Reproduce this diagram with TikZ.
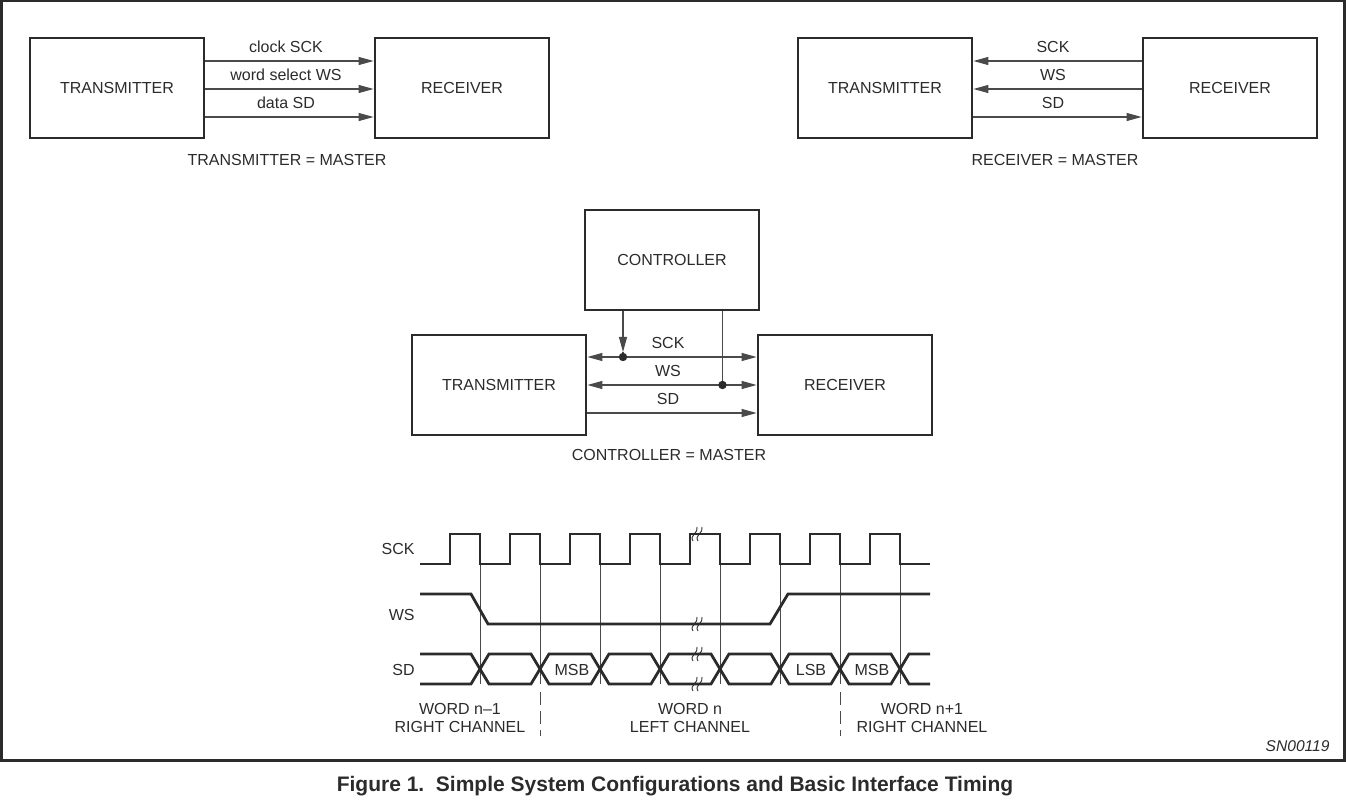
\documentclass[tikz,border=0pt]{standalone}
\usepackage{fontspec}
\setmainfont{Liberation Sans}
\usetikzlibrary{arrows.meta}
\definecolor{ink}{HTML}{2B2B2B}
\definecolor{thin}{HTML}{4A4A4A}
\begin{document}
\begin{tikzpicture}[x=0.5pt,y=-0.5pt,
  box/.style={draw=ink,line width=1.4pt,minimum width=87pt,minimum height=50pt,inner sep=0pt,text=ink,font=\fontsize{8}{9.6}\selectfont},
  lbl/.style={inner sep=0pt,text=ink,font=\fontsize{8}{9.6}\selectfont},
  sig/.style={draw=thin,line width=0.55pt},
  arr/.style={sig,-{Triangle[length=7.5pt,width=4pt]}},
  darr/.style={sig,{Triangle[length=7.5pt,width=4pt]}-{Triangle[length=7.5pt,width=4pt]}},
  wave/.style={draw=ink,line width=1.4pt},
  guide/.style={draw=thin,line width=0.45pt},
  brk/.pic={\draw[draw=ink,line width=0.45pt] (-6,7) .. controls (-10,1) and (0,-1) .. (-2,-7);
            \draw[draw=ink,line width=0.45pt] (-1,7) .. controls (-5,1) and (5,-1) .. (3,-7);}
]
\useasboundingbox (0,0) rectangle (1346,802);
\draw[draw=ink,line width=1.5pt] (1,1) rectangle (1344,760);

% ---------- top left: transmitter = master
\node[box] (tl) at (117,88) {TRANSMITTER};
\node[box] (rl) at (462,88) {RECEIVER};
\draw[arr] (tl.east |- 0,61) -- (rl.west |- 0,61);
\draw[arr] (tl.east |- 0,89) -- (rl.west |- 0,89);
\draw[arr] (tl.east |- 0,117) -- (rl.west |- 0,117);
\node[lbl] (l1) at (286,47) {clock SCK};
\node[lbl] (l2) at (286,75) {word select WS};
\node[lbl] (l3) at (286,103) {data SD};
\node[lbl] (m1) at (287,160) {TRANSMITTER = MASTER};

% ---------- top right: receiver = master
\node[box] (tr) at (885,88) {TRANSMITTER};
\node[box] (rr) at (1230,88) {RECEIVER};
\draw[arr] (rr.west |- 0,61) -- (tr.east |- 0,61);
\draw[arr] (rr.west |- 0,89) -- (tr.east |- 0,89);
\draw[arr] (tr.east |- 0,117) -- (rr.west |- 0,117);
\node[lbl] (r1) at (1053,47) {SCK};
\node[lbl] (r2) at (1053,75) {WS};
\node[lbl] (r3) at (1053,103) {SD};
\node[lbl] (m2) at (1055,160) {RECEIVER = MASTER};

% ---------- middle: controller = master
\node[box] (ctl) at (672,260) {CONTROLLER};
\node[box] (mt) at (499,385) {TRANSMITTER};
\node[box] (mr) at (845,385) {RECEIVER};
\coordinate (d1) at (623,357);
\coordinate (d2) at (722.5,385);
\draw[darr] (mt.east |- d1) -- (mr.west |- d1);
\draw[darr] (mt.east |- d2) -- (mr.west |- d2);
\draw[arr] (mt.east |- 0,413) -- (mr.west |- 0,413);
\draw[arr] (ctl.south -| d1) -- ([yshift=2.5pt]d1);
\draw[sig] ([yshift=2.5pt]d1) -- (d1);
\draw[sig] (ctl.south -| d2) -- (d2);
\fill[ink] (d1) circle (2.1pt);
\fill[ink] (d2) circle (2.1pt);
\node[lbl] (c1) at (668,343) {SCK};
\node[lbl] (c2) at (668,371) {WS};
\node[lbl] (c3) at (668,399) {SD};
\node[lbl] (m3) at (669,455) {CONTROLLER = MASTER};

% ---------- timing
\node[lbl,anchor=east] (tsck) at (415,549) {SCK};
\node[lbl,anchor=east] (tws) at (415,615) {WS};
\node[lbl,anchor=east] (tsd) at (415,670) {SD};

\foreach \g in {480,540,...,900} \draw[guide] (\g,564) -- (\g,684);
\foreach \g in {540,840} \draw[guide,dash pattern=on 6.5pt off 3pt] (\g,692) -- (\g,736);

\draw[wave] (420,564) \foreach \r in {450,510,...,870} { -- (\r,564) -- (\r,534) -- (\r+30,534) -- (\r+30,564) } -- (930,564);
\draw[wave] (420,594) -- (471,594) -- (488,624) -- (770,624) -- (788,594) -- (930,594);

\draw[wave] (420,654) -- (471,654) -- (480,669) -- (471,684) -- (420,684);
\foreach \a in {480,540,...,840}
  \draw[wave] (\a,669) -- (\a+9,654) -- (\a+51,654) -- (\a+60,669) -- (\a+51,684) -- (\a+9,684) -- cycle;
\draw[wave] (930,654) -- (909,654) -- (900,669) -- (909,684) -- (930,684);

\node[lbl] (msb1) at (572,670) {MSB};
\node[lbl] (lsb) at (811,670) {LSB};
\node[lbl] (msb2) at (872,670) {MSB};

\pic at (699,534) {brk};
\pic at (699,624) {brk};
\pic at (699,654) {brk};
\pic at (699,684) {brk};

\node[lbl,align=center,font=\fontsize{8}{8.6}\selectfont] (w1) at (460,718) {WORD n–1\\RIGHT CHANNEL};
\node[lbl,align=center,font=\fontsize{8}{8.6}\selectfont] (w2) at (690,718) {WORD n\\LEFT CHANNEL};
\node[lbl,align=center,font=\fontsize{8}{8.6}\selectfont] (w3) at (922,718) {WORD n+1\\RIGHT CHANNEL};

\node[lbl,anchor=east,font=\itshape\fontsize{7.8}{9}\selectfont] (sn) at (1330,746) {SN00119};
\node[lbl,anchor=base,font=\bfseries\fontsize{10.5}{12}\selectfont] (cap) at (675,791) {Figure 1.~~Simple System Configurations and Basic Interface Timing};
\end{tikzpicture}
\end{document}
